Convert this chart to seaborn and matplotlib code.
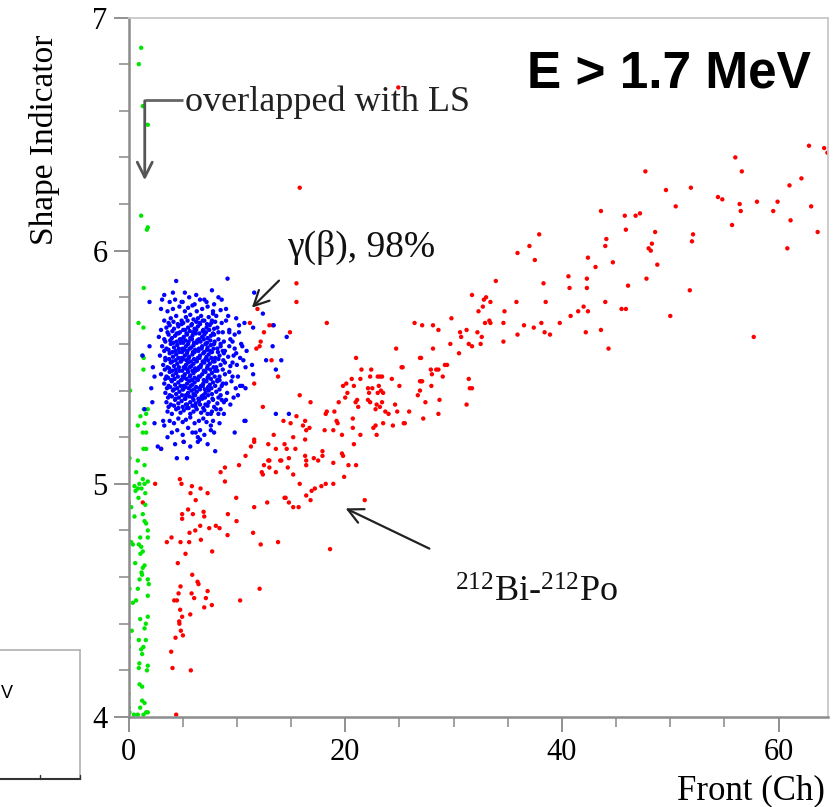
import matplotlib
matplotlib.use("Agg")
import matplotlib.pyplot as plt
import seaborn as sns
import pandas as pd
from matplotlib.ticker import MultipleLocator, FixedLocator
from matplotlib.lines import Line2D

sns.set_theme(style="white")
plt.rcParams["font.family"] = ["Liberation Serif", "DejaVu Serif"]
plt.rcParams["mathtext.fontset"] = "custom"
plt.rcParams["mathtext.rm"] = "Liberation Serif"
plt.rcParams["mathtext.it"] = "Liberation Serif:italic"

# ---------------- data ----------------
green_x = [1.17, 0.95, 1.32, 1.78, 1.17, 1.78, 1.70, 1.41, 0.92, 1.38, 1.26, 1.40, 1.38,
           0.15, 1.41, 1.78, 1.63, 1.10, 0.86, 1.48, 1.32, 1.63, 1.38, 1.63, 0.09, 0.86, 1.48, 0.71, 1.32,
           1.00, 0.55, 0.86, 1.48, 1.78, 1.20, 0.65, 1.55, 0.92, 0.03, 0.25, 1.55, 0.55, 1.32, 1.48, 1.63,
           1.78, 1.78, 1.08, 0.25, 0.40, 0.95, 1.17, 1.32, 1.10, 0.62, 1.48, 1.32, 1.20, 1.25, 1.02, 1.78,
           1.87, 0.09, 0.86, 1.78, 0.40, 0.70, 1.78, 1.08, 1.60, 1.48, 0.30, 0.03, 0.95, 1.60, 0.03, 1.17,
           1.38, 1.26, 1.00, 0.95, 1.78, 1.70, 1.02, 1.26, 0.00, 1.26, 1.48, 1.08, 0.03, 0.09, 0.86, 1.63,
           1.78, 0.50, 1.38]
green_y = [6.87, 6.80, 6.62, 6.54, 6.15, 6.10, 6.09, 5.84, 5.69, 5.67, 5.55, 5.54, 5.49,
           5.40, 5.32, 5.32, 5.30, 5.29, 5.25, 5.26, 5.22, 5.22, 5.15, 5.15, 5.11, 5.10, 5.08, 5.05, 5.02,
           5.00, 4.99, 4.98, 5.00, 5.01, 4.98, 4.97, 4.96, 4.94, 4.92, 4.90, 4.91, 4.86, 4.87, 4.84, 4.83,
           4.80, 4.77, 4.77, 4.75, 4.74, 4.74, 4.73, 4.71, 4.70, 4.66, 4.65, 4.64, 4.62, 4.61, 4.59, 4.59,
           4.57, 4.55, 4.55, 4.52, 4.49, 4.50, 4.43, 4.42, 4.40, 4.38, 4.37, 4.34, 4.33, 4.33, 4.30, 4.29,
           4.30, 4.27, 4.23, 4.21, 4.22, 4.20, 4.14, 4.13, 4.10, 4.07, 4.06, 4.04, 4.04, 4.02, 4.01, 4.02,
           4.02, 4.01, 4.01]

red_x = [15.8, 24.9, 15.5, 15.5, 18.3, 11.9, 12.5, 13.0, 13.3, 14.9,
         12.2, 12.1, 11.8, 13.2, 13.8, 11.6, 11.2, 15.8, 12.4, 16.8,
         14.3, 14.96, 15.5, 16.3, 16.1, 16.4, 16.7, 13.4, 15.2, 16.3,
         11.6, 11.3, 10.8, 12.9, 14.4, 13.6, 14.6, 15.4, 13.0, 14.0,
         14.8, 16.3, 16.4, 12.5, 12.3, 13.0, 13.6, 14.7, 15.2, 15.8,
         14.5, 14.8, 15.2, 15.7, 11.6, 12.8, 16.4, 16.9, 17.2, 16.8,
         17.8, 18.2, 18.9, 21.8, 17.1, 17.5, 17.9, 17.9, 18.9, 19.7,
         19.8, 20.3, 21.0, 19.9, 20.8, 12.4, 12.9, 14.1, 14.4, 16.4,
         3.02, 5.08, 11.6, 10.2, 8.9, 8.5, 8.9, 4.74, 4.89, 5.85,
         6.65, 5.72, 7.3, 6.2, 9.94, 4.95, 5.5, 5.94, 6.93, 6.99,
         4.95, 9.17, 9.97, 6.62, 6.16, 5.63, 7.45, 8.06, 8.4, 9.14,
         11.5, 12.2, 13.8, 3.54, 3.97, 4.8, 5.6, 6.68, 5.26, 7.72,
         4.55, 18.6, 5.88, 6.37, 6.46, 4.8, 5.82, 7.3, 4.62, 6.06,
         7.14, 4.22, 4.47, 7.69, 6.99, 4.77, 12.1, 10.3, 5.7, 4.95,
         4.68, 4.7, 4.83, 5.02, 4.34, 3.94, 4.06, 5.75, 4.4, 2.46,
         1.32, 19.4, 20.0, 20.2, 20.96, 21.1, 21.2, 20.8, 19.8, 20.1,
         20.6, 21.4, 21.5, 21.0, 22.4, 22.3, 23.0, 23.2, 23.4, 24.3,
         22.1, 22.5, 23.1, 23.3, 23.5, 23.0, 22.2, 22.1, 22.3, 22.9,
         23.4, 23.2, 22.8, 23.7, 24.0, 24.6, 24.8, 25.9, 25.0, 25.5,
         24.4, 23.5, 22.8, 22.6, 22.9, 18.1, 18.9, 19.2, 19.3, 18.2,
         18.3, 19.0, 19.7, 20.7, 20.7, 21.4, 25.3, 25.4, 27.0, 27.0,
         33.9, 26.9, 25.2, 24.7, 26.9, 27.1, 26.9, 26.7, 27.4, 27.2,
         27.95, 27.9, 28.0, 28.4, 28.6, 29.0, 29.2, 29.4, 30.5, 28.7,
         28.6, 26.4, 27.1, 28.1, 28.6, 28.1, 29.8, 29.7, 30.6, 30.7,
         31.2, 31.4, 31.7, 32.2, 32.5, 32.6, 32.9, 33.3, 32.3, 32.7,
         32.8, 33.4, 31.7, 34.7, 34.6, 34.6, 35.8, 36.5, 35.9, 37.4,
         31.4, 31.5, 31.7, 31.2, 33.0, 33.4, 62.8, 64.2, 64.5, 56.0,
         56.6, 61.0, 62.1, 47.7, 49.6, 51.9, 50.5, 54.4, 54.8, 56.4,
         56.5, 58.0, 59.9, 59.5, 63.0, 61.1, 55.7, 63.6, 60.8, 57.7,
         51.8, 50.0, 43.6, 45.8, 46.8, 47.2, 45.9, 44.1, 44.0, 48.6,
         48.3, 48.0, 48.2, 52.0, 52.1, 48.8, 47.8, 46.1, 45.5, 45.9,
         44.0, 43.6, 44.3, 44.7, 43.1, 42.4, 42.3, 42.3, 42.4, 42.0,
         42.2, 41.5, 40.8, 39.8, 40.7, 40.6, 38.5, 38.3, 38.1, 38.4,
         38.9, 37.9, 37.0, 37.5, 35.9]
red_y = [6.27, 6.70, 5.86, 5.78, 5.69, 5.75, 5.65, 5.68, 5.68, 5.65,
         5.61, 5.59, 5.58, 5.53, 5.46, 5.43, 5.69, 5.38, 5.33, 5.35,
         5.27, 5.26, 5.29, 5.27, 5.25, 5.23, 5.24, 5.21, 5.20, 5.19,
         5.19, 5.16, 5.12, 5.17, 5.17, 5.15, 5.15, 5.15, 5.10, 5.10,
         5.11, 5.12, 5.10, 5.08, 5.05, 5.07, 5.05, 5.07, 5.04, 5.00,
         4.94, 4.92, 4.90, 4.90, 4.90, 4.92, 4.95, 4.97, 4.98, 4.93,
         4.99, 5.00, 5.00, 4.93, 5.11, 5.10, 5.14, 5.12, 5.09, 5.13,
         5.12, 5.08, 5.08, 5.03, 5.17, 5.04, 5.10, 5.10, 4.94, 5.08,
         5.15, 5.18, 5.18, 5.08, 5.07, 5.05, 5.01, 5.02, 5.00, 4.99,
         4.98, 4.96, 4.96, 4.93, 4.94, 4.87, 4.89, 4.87, 4.88, 4.86,
         4.85, 4.87, 4.84, 4.82, 4.80, 4.79, 4.81, 4.82, 4.81, 4.78,
         4.79, 4.74, 4.75, 4.75, 4.77, 4.75, 4.75, 4.76, 4.70, 4.71,
         4.66, 4.72, 4.61, 4.58, 4.57, 4.56, 4.53, 4.54, 4.53, 4.51,
         4.51, 4.50, 4.50, 4.48, 4.47, 4.46, 4.55, 4.50, 4.44, 4.43,
         4.41, 4.40, 4.37, 4.35, 4.34, 4.28, 4.21, 4.20, 4.01, 5.00,
         4.92, 5.35, 5.37, 5.39, 5.35, 5.36, 5.33, 5.42, 5.42, 5.43,
         5.45, 5.45, 5.49, 5.54, 5.49, 5.46, 5.46, 5.46, 5.46, 5.45,
         5.41, 5.41, 5.42, 5.40, 5.39, 5.39, 5.39, 5.36, 5.35, 5.34,
         5.35, 5.33, 5.32, 5.31, 5.30, 5.34, 5.31, 5.31, 5.42, 5.26,
         5.25, 5.26, 5.25, 5.24, 5.21, 5.23, 5.23, 5.27, 5.26, 5.30,
         5.31, 5.31, 5.21, 5.24, 5.28, 5.21, 5.50, 5.26, 5.54, 5.44,
         5.87, 5.54, 5.50, 5.58, 5.44, 5.44, 5.40, 5.38, 5.35, 5.28,
         5.42, 5.49, 5.47, 5.49, 5.49, 5.46, 5.51, 5.51, 5.56, 5.36,
         5.30, 5.69, 5.68, 5.68, 5.66, 5.58, 5.71, 5.60, 5.65, 5.63,
         5.66, 5.60, 5.59, 5.65, 5.60, 5.63, 5.69, 5.70, 5.74, 5.76,
         5.79, 5.78, 5.81, 5.74, 5.69, 5.61, 5.78, 5.68, 5.64, 5.67,
         5.45, 5.41, 5.41, 5.34, 5.80, 5.69, 6.45, 6.44, 6.42, 6.40,
         6.34, 6.28, 6.31, 6.34, 6.26, 6.27, 6.19, 6.23, 6.22, 6.20,
         6.17, 6.21, 6.21, 6.17, 6.19, 6.13, 6.11, 6.08, 6.01, 5.63,
         5.83, 5.72, 6.17, 6.15, 6.15, 6.16, 6.09, 6.05, 6.02, 6.08,
         6.03, 6.01, 6.00, 6.04, 6.07, 5.94, 5.88, 5.85, 5.75, 5.75,
         5.78, 5.66, 5.58, 5.95, 5.93, 5.97, 5.88, 5.84, 5.74, 5.76,
         5.65, 5.74, 5.72, 5.69, 5.84, 5.89, 5.78, 5.86, 5.69, 5.65,
         5.64, 6.07, 6.02, 5.96, 5.99]

blue_x = [4.4, 9.14, 1.94, 11.6, 12.4, 10.7, 11.5, 9.94, 14.6, 13.3,
          10.6, 12.7, 14.1, 11.4, 11.5, 3.1, 3.3, 4.1, 5.2, 6.25,
          7.0, 7.7, 8.6, 9.0, 7.8, 3.8, 4.9, 3.0, 9.3, 9.6,
          1.94, 2.25, 2.4, 1.3, 9.94, 9.6, 2.1, 2.2, 1.48, 2.4,
          3.2, 3.3, 3.6, 2.7, 3.0, 4.46, 5.4, 8.0, 7.6, 7.6,
          6.2, 6.4, 6.4, 9.8, 10.8, 10.2, 9.6, 9.9, 10.5, 10.8,
          10.1, 9.0, 8.6, 7.6, 8.3, 8.5, 13.6, 14.8, 13.6, 8.2,
          8.7, 10.5, 13.4, 10.7,
          4.3, 5.0, 5.6, 6.1, 6.6, 7.2, 7.9, 8.3,
          3.6, 4.1, 4.7, 5.2, 5.5, 5.9, 6.3, 6.8, 7.3, 7.8, 8.5, 9.2,
          3.3, 3.9, 4.4, 4.9, 5.3, 5.7, 6.0, 6.4, 6.7, 7.0, 7.4, 7.7, 8.1, 8.6, 9.0, 10.2,
          3.0, 3.5, 3.8, 4.2, 4.6, 4.9, 5.2, 5.5, 5.8, 6.1, 6.4, 6.6, 6.9, 7.2, 7.5, 7.9, 8.2, 8.7, 9.3, 9.8,
          2.8, 3.3, 3.7, 4.0, 4.3, 4.6, 4.9, 5.1, 5.4, 5.7, 5.9, 6.2, 6.5, 6.8, 7.0, 7.3, 7.6, 7.9, 8.3, 8.8, 9.4, 10.4,
          3.1, 3.5, 3.9, 4.2, 4.5, 4.8, 5.0, 5.3, 5.5, 5.8, 6.0, 6.3, 6.5, 6.8, 7.1, 7.3, 7.6, 7.9, 8.2, 8.5, 8.9, 9.3, 9.8, 10.9,
          2.9, 3.4, 3.8, 4.1, 4.4, 4.7, 4.9, 5.2, 5.4, 5.6, 5.9, 6.1, 6.4, 6.6, 6.9, 7.2, 7.4, 7.7, 8.0, 8.4, 8.8, 9.2, 9.7, 10.3,
          3.2, 3.6, 3.9, 4.2, 4.5, 4.8, 5.1, 5.3, 5.5, 5.8, 6.0, 6.3, 6.5, 6.7, 7.0, 7.3, 7.5, 7.8, 8.1, 8.5, 8.9, 9.4, 10.0, 10.8,
          3.0, 3.5, 3.8, 4.1, 4.4, 4.7, 5.0, 5.2, 5.5, 5.7, 6.0, 6.2, 6.5, 6.8, 7.1, 7.4, 7.7, 8.0, 8.4, 8.9, 9.3, 10.1,
          3.3, 3.7, 4.0, 4.3, 4.6, 4.9, 5.1, 5.4, 5.6, 5.9, 6.1, 6.4, 6.7, 6.9, 7.2, 7.5, 7.8, 8.2, 8.6, 9.0, 9.5, 10.3,
          3.4, 3.8, 4.1, 4.4, 4.7, 5.0, 5.3, 5.5, 5.8, 6.0, 6.3, 6.6, 6.9, 7.1, 7.4, 7.7, 8.1, 8.5, 9.1, 9.7,
          3.5, 3.9, 4.3, 4.6, 4.9, 5.2, 5.4, 5.7, 6.0, 6.2, 6.5, 6.8, 7.1, 7.4, 7.8, 8.2, 8.8, 9.4,
          3.6, 4.0, 4.4, 4.8, 5.1, 5.4, 5.7, 6.0, 6.3, 6.7, 7.0, 7.3, 7.7, 8.1, 8.8,
          3.8, 4.2, 4.6, 5.0, 5.3, 5.7, 6.1, 6.5, 6.9, 7.2, 7.8, 8.4,
          4.0, 4.5, 5.0, 5.5, 5.9, 6.6, 7.0, 7.9,
          4.3, 5.1, 5.7, 6.6, 7.3,
          3.7, 4.15, 4.55, 5.05, 5.45, 5.85, 6.25, 6.55, 6.85, 7.25, 7.65, 8.0,
          3.6, 4.05, 4.45, 4.75, 5.05, 5.35, 5.65, 5.95, 6.25, 6.55, 6.85, 7.15, 7.45, 7.8, 8.3,
          3.4, 3.85, 4.15, 4.45, 4.75, 5.05, 5.25, 5.55, 5.85, 6.05, 6.35, 6.65, 6.95, 7.25, 7.55, 7.95, 8.5,
          3.3, 3.7, 4.05, 4.35, 4.65, 4.95, 5.15, 5.45, 5.65, 5.95, 6.15, 6.45, 6.75, 7.0, 7.25, 7.55, 7.85, 8.25, 8.7,
          3.4, 3.75, 4.05, 4.35, 4.6, 4.85, 5.05, 5.35, 5.55, 5.75, 6.05, 6.25, 6.55, 6.85, 7.1, 7.35, 7.65, 7.95, 8.3, 8.75,
          3.35, 3.75, 4.05, 4.35, 4.65, 4.95, 5.25, 5.45, 5.65, 5.9, 6.15, 6.4, 6.65, 6.95, 7.25, 7.55, 7.85, 8.2, 8.7,
          3.4, 3.65, 3.95, 4.25, 4.55, 4.85, 5.15, 5.35, 5.65, 5.85, 6.1, 6.35, 6.6, 6.95, 7.3, 7.6, 7.95, 8.4,
          3.55, 3.85, 4.2, 4.5, 4.8, 5.05, 5.25, 5.55, 5.75, 6.05, 6.25, 6.55, 6.85, 7.05, 7.35, 7.65, 8.0, 8.4,
          3.65, 4.0, 4.35, 4.65, 4.95, 5.25, 5.6, 5.9, 6.15, 6.45, 6.75, 7.05, 7.35, 7.75, 8.3,
          3.7, 4.2, 4.6, 5.0, 5.3, 5.55, 5.9, 6.2, 6.6, 6.9, 7.3, 7.9]
blue_y = [5.87, 5.88, 5.78, 5.82, 5.73, 5.69, 5.67, 5.71, 5.63, 5.59,
          5.53, 5.53, 5.53, 5.51, 5.47, 5.79, 5.81, 5.82, 5.82, 5.81,
          5.79, 5.83, 5.79, 5.75, 5.74, 5.78, 5.78, 5.75, 5.65, 5.61,
          5.59, 5.50, 5.46, 5.55, 5.56, 5.52, 5.41, 5.35, 5.32, 5.26,
          5.27, 5.25, 5.20, 5.16, 5.15, 5.11, 5.11, 5.14, 5.25, 5.23,
          5.22, 5.20, 5.18, 5.22, 5.27, 5.65, 5.46, 5.41, 5.42, 5.41,
          5.38, 5.36, 5.36, 5.30, 5.30, 5.32, 5.30, 5.30, 5.49, 5.44,
          5.43, 5.59, 5.68, 5.27,
          5.79, 5.78, 5.80, 5.77, 5.79, 5.78, 5.77, 5.80,
          5.74, 5.75, 5.76, 5.74, 5.755, 5.765, 5.74, 5.75, 5.76, 5.73, 5.745, 5.72,
          5.70, 5.71, 5.72, 5.70, 5.715, 5.725, 5.705, 5.71, 5.72, 5.70, 5.715, 5.70, 5.72, 5.69, 5.70, 5.68,
          5.66, 5.67, 5.68, 5.665, 5.675, 5.685, 5.66, 5.67, 5.68, 5.665, 5.675, 5.685, 5.66, 5.67, 5.68, 5.665, 5.67, 5.65, 5.66, 5.64,
          5.63, 5.62, 5.64, 5.625, 5.635, 5.645, 5.62, 5.63, 5.64, 5.625, 5.635, 5.645, 5.62, 5.63, 5.64, 5.625, 5.635, 5.64, 5.62, 5.61, 5.62, 5.60,
          5.59, 5.58, 5.60, 5.585, 5.595, 5.605, 5.58, 5.59, 5.60, 5.585, 5.595, 5.605, 5.58, 5.59, 5.60, 5.585, 5.595, 5.60, 5.58, 5.59, 5.57, 5.59, 5.58, 5.57,
          5.55, 5.54, 5.56, 5.545, 5.555, 5.565, 5.54, 5.55, 5.56, 5.545, 5.555, 5.565, 5.54, 5.55, 5.56, 5.545, 5.555, 5.565, 5.54, 5.55, 5.56, 5.545, 5.55, 5.54,
          5.51, 5.50, 5.52, 5.505, 5.515, 5.525, 5.50, 5.51, 5.52, 5.505, 5.515, 5.525, 5.50, 5.51, 5.52, 5.505, 5.515, 5.525, 5.50, 5.51, 5.52, 5.505, 5.51, 5.50,
          5.47, 5.46, 5.48, 5.465, 5.475, 5.485, 5.46, 5.47, 5.48, 5.465, 5.475, 5.485, 5.46, 5.47, 5.48, 5.465, 5.475, 5.485, 5.46, 5.47, 5.48, 5.46,
          5.43, 5.42, 5.44, 5.425, 5.435, 5.445, 5.42, 5.43, 5.44, 5.425, 5.435, 5.445, 5.42, 5.43, 5.44, 5.425, 5.435, 5.445, 5.42, 5.43, 5.44, 5.42,
          5.39, 5.38, 5.40, 5.385, 5.395, 5.405, 5.38, 5.39, 5.40, 5.385, 5.395, 5.405, 5.38, 5.39, 5.40, 5.385, 5.395, 5.38, 5.39, 5.37,
          5.35, 5.34, 5.36, 5.345, 5.355, 5.365, 5.34, 5.35, 5.36, 5.345, 5.355, 5.365, 5.34, 5.35, 5.36, 5.345, 5.35, 5.34,
          5.31, 5.30, 5.32, 5.305, 5.315, 5.325, 5.30, 5.31, 5.32, 5.305, 5.315, 5.30, 5.31, 5.32, 5.30,
          5.27, 5.26, 5.28, 5.265, 5.275, 5.285, 5.26, 5.27, 5.28, 5.265, 5.27, 5.26,
          5.22, 5.23, 5.21, 5.24, 5.22, 5.23, 5.21, 5.22,
          5.17, 5.18, 5.16, 5.19, 5.17,
          5.69, 5.695, 5.685, 5.69, 5.70, 5.685, 5.695, 5.69, 5.70, 5.685, 5.69, 5.695,
          5.65, 5.655, 5.645, 5.65, 5.66, 5.645, 5.655, 5.65, 5.66, 5.645, 5.655, 5.65, 5.66, 5.645, 5.65,
          5.61, 5.615, 5.605, 5.61, 5.62, 5.605, 5.615, 5.61, 5.62, 5.605, 5.615, 5.61, 5.62, 5.605, 5.615, 5.61, 5.60,
          5.57, 5.575, 5.565, 5.57, 5.58, 5.565, 5.575, 5.57, 5.58, 5.565, 5.575, 5.57, 5.58, 5.565, 5.575, 5.57, 5.58, 5.565, 5.57,
          5.53, 5.535, 5.525, 5.53, 5.54, 5.525, 5.535, 5.53, 5.54, 5.525, 5.535, 5.53, 5.54, 5.525, 5.535, 5.53, 5.54, 5.525, 5.535, 5.53,
          5.49, 5.495, 5.485, 5.49, 5.50, 5.485, 5.495, 5.49, 5.50, 5.485, 5.495, 5.49, 5.50, 5.485, 5.495, 5.49, 5.50, 5.485, 5.49,
          5.45, 5.455, 5.445, 5.45, 5.46, 5.445, 5.455, 5.45, 5.46, 5.445, 5.455, 5.45, 5.46, 5.445, 5.455, 5.45, 5.46, 5.445,
          5.41, 5.415, 5.405, 5.41, 5.42, 5.405, 5.415, 5.41, 5.42, 5.405, 5.415, 5.41, 5.42, 5.405, 5.415, 5.41, 5.42, 5.405,
          5.37, 5.375, 5.365, 5.37, 5.38, 5.365, 5.375, 5.37, 5.38, 5.365, 5.375, 5.37, 5.38, 5.365, 5.37,
          5.33, 5.335, 5.325, 5.33, 5.34, 5.325, 5.335, 5.33, 5.34, 5.325, 5.335, 5.33]

group_names = ["red", "green", "blue"]
group_colors = ["#ff0000", "#00e600", "#0000ff"]

x_ticks = [0, 20, 40, 60]
y_ticks = [4, 5, 6, 7]

# ---------------- figure ----------------
df = pd.concat([
    pd.DataFrame({"Front (Ch)": red_x, "Shape Indicator": red_y, "group": "red"}),
    pd.DataFrame({"Front (Ch)": green_x, "Shape Indicator": green_y, "group": "green"}),
    pd.DataFrame({"Front (Ch)": blue_x, "Shape Indicator": blue_y, "group": "blue"}),
], ignore_index=True)

W, H = 835, 807
fig = plt.figure(figsize=(W / 100, H / 100), dpi=100)
fig.patch.set_facecolor("white")
ax = fig.add_axes([128.5 / W, 1 - 717 / H, (828.5 - 128.5) / W, (717 - 17.5) / H])
ax.set_facecolor("white")

sns.scatterplot(data=df, x="Front (Ch)", y="Shape Indicator", hue="group",
                palette=dict(zip(group_names, group_colors)), s=10, marker="o",
                linewidth=0, legend=False, ax=ax)

ax.set_xlim(0, 64.6)
ax.set_ylim(4, 7)
ax.xaxis.set_major_locator(FixedLocator(x_ticks))
ax.yaxis.set_major_locator(FixedLocator(y_ticks))
ax.xaxis.set_minor_locator(MultipleLocator(5))
ax.yaxis.set_minor_locator(MultipleLocator(0.2))
ax.set_xticklabels([str(v) for v in x_ticks])
ax.set_yticklabels([str(v) for v in y_ticks])
ax.tick_params(which="major", direction="out", length=11, width=1.3, color="#888888",
               labelsize=22, labelcolor="black", pad=4)
ax.tick_params(which="minor", direction="out", length=7, width=1.1, color="#888888")
ax.tick_params(axis="both", which="both", bottom=True, left=True, top=False, right=False)
for side in ["left", "bottom"]:
    ax.spines[side].set_color("#8c8c8c")
    ax.spines[side].set_linewidth(1.8)
for side in ["top", "right"]:
    ax.spines[side].set_color("#c8c8c8")
    ax.spines[side].set_linewidth(1.3)
ax.set_xlabel("")
ax.set_ylabel("")
ax.grid(False)

fig.text(45 / W, 1 - 140 / H, "Shape Indicator", rotation=90, ha="center", va="center",
         fontsize=24, color="black")
fig.text(751 / W, 1 - 791 / H, "Front (Ch)", ha="center", va="center", fontsize=25, color="black")

# annotations
ax.text(5.2, 6.60, "overlapped with LS", fontsize=26, color="#222222", ha="left", va="baseline")
ax.plot([5.05, 1.5], [6.648, 6.648], color="#666666", lw=2.0, solid_capstyle="butt")
ax.annotate("", xy=(1.5, 6.29), xytext=(1.5, 6.655),
            arrowprops=dict(arrowstyle="->,head_length=0.9,head_width=0.45", color="#555555", lw=2.0))

ax.text(14.6, 5.975, "γ(β), 98%", fontsize=27, color="#111111", ha="left", va="baseline")
ax.annotate("", xy=(11.2, 5.747), xytext=(14.07, 5.88),
            arrowprops=dict(arrowstyle="->,head_length=0.9,head_width=0.45", color="#222222", lw=1.6))

ax.text(30.1, 4.494, r"$^{212}$Bi-$^{212}$Po", fontsize=26, color="#111111", ha="left", va="baseline")
ax.annotate("", xy=(19.8, 4.90), xytext=(28.0, 4.717),
            arrowprops=dict(arrowstyle="->,head_length=0.9,head_width=0.45", color="#222222", lw=1.6))

ax.text(36.8, 6.70, "E > 1.7 MeV", fontsize=37, fontweight="bold", color="black",
        family=["Liberation Sans", "DejaVu Sans"], ha="left", va="baseline")

# cut-off fragments of the surrounding slide (only descenders visible, as in the source)
fig.text(283 / W, 1 + 24 / H, "g", fontsize=40, fontweight="bold", color="#14146e",
         family=["Liberation Sans", "DejaVu Sans"], ha="center", va="baseline")
fig.text(495 / W, 1 + 24 / H, "y", fontsize=40, fontweight="bold", color="#14146e",
         family=["Liberation Sans", "DejaVu Sans"], ha="center", va="baseline")
fig.add_artist(Line2D([0, 80 / W], [1 - 650 / H, 1 - 650 / H], color="#b0b0b0", lw=1.2,
                      transform=fig.transFigure))
fig.add_artist(Line2D([80 / W, 80 / W], [1 - 650 / H, 1 - 779 / H], color="#b0b0b0", lw=1.2,
                      transform=fig.transFigure))
fig.add_artist(Line2D([0, 80 / W], [1 - 779 / H, 1 - 779 / H], color="#333333", lw=1.5,
                      transform=fig.transFigure))
for tx in [40, 80]:
    fig.add_artist(Line2D([tx / W, tx / W], [1 - 779 / H, 1 - 775 / H], color="#333333", lw=1.0,
                          transform=fig.transFigure))
fig.text(1 / W, 1 - 693 / H, "V", fontsize=13, color="black",
         family=["Liberation Sans", "DejaVu Sans"], ha="left", va="center")

fig.savefig("out.png", dpi=100, facecolor="white")
